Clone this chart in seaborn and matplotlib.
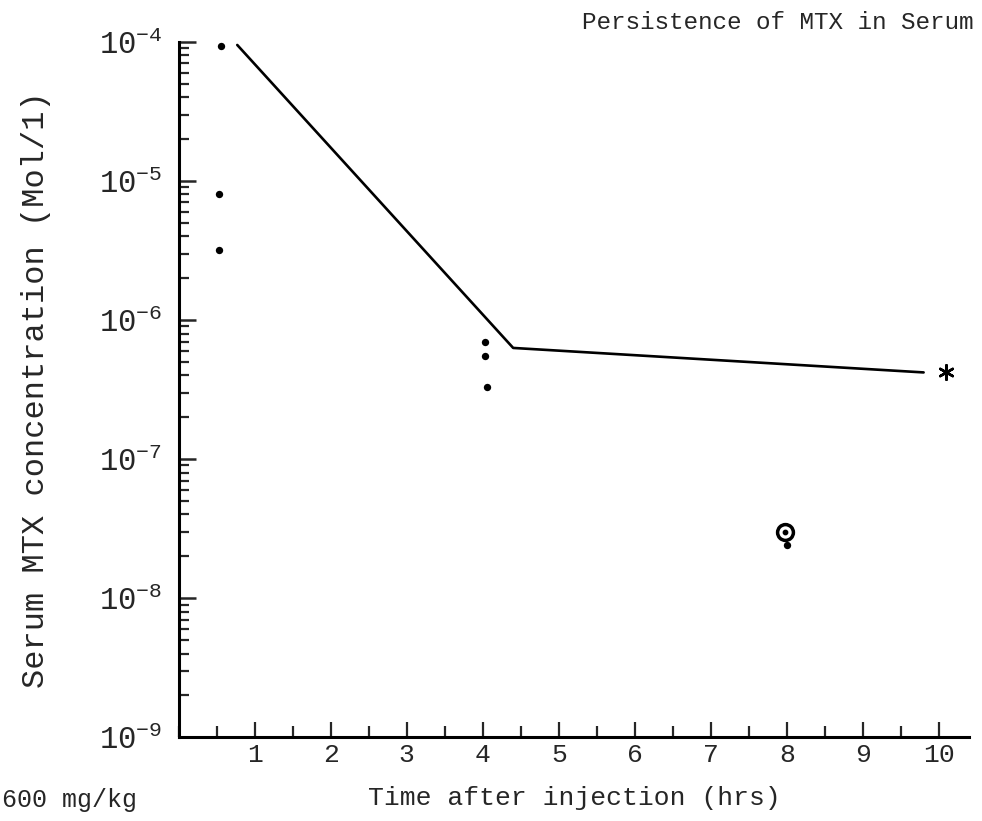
import matplotlib
matplotlib.use('Agg')
import matplotlib.pyplot as plt
import matplotlib.ticker as mticker
import seaborn as sns
import numpy as np
import pandas as pd

# fitted decay curve
line_time = [0.77, 4.4, 9.8]
line_conc = [9.5e-5, 6.3e-7, 4.2e-7]

# individual serum measurements
dot_time = [0.55, 0.53, 0.53, 4.03, 4.03, 4.05, 8.0]
dot_conc = [9.3e-5, 8.0e-6, 3.2e-6, 7.0e-7, 5.5e-7, 3.3e-7, 2.4e-8]

ring_time = [7.98]
ring_conc = [3.0e-8]

star_time = [10.1]
star_conc = [4.2e-7]

x_ticks = [1, 2, 3, 4, 5, 6, 7, 8, 9, 10]
y_ticks = [1e-9, 1e-8, 1e-7, 1e-6, 1e-5, 1e-4]
y_labels = [r'$10^{-9}$', r'$10^{-8}$', r'$10^{-7}$', r'$10^{-6}$', r'$10^{-5}$', r'$10^{-4}$']

sns.set_theme(style='ticks')
plt.rcParams['font.family'] = ['Liberation Mono', 'DejaVu Sans Mono']
plt.rcParams['mathtext.fontset'] = 'custom'
plt.rcParams['mathtext.rm'] = 'Liberation Mono'
plt.rcParams['mathtext.it'] = 'Liberation Mono'
plt.rcParams['mathtext.default'] = 'regular'

fig = plt.figure(figsize=(9.82, 8.21), dpi=100)
ax = fig.add_axes([0.182, 0.102, 0.805, 0.847])

line_df = pd.DataFrame({'t': line_time, 'c': line_conc})
dot_df = pd.DataFrame({'t': dot_time, 'c': dot_conc})

sns.lineplot(data=line_df, x='t', y='c', color='black', linewidth=1.9, ax=ax)
sns.scatterplot(data=dot_df, x='t', y='c', color='black', s=28, edgecolor='black', linewidth=0, ax=ax)
ax.scatter(ring_time, ring_conc, s=130, facecolor='white', edgecolor='black', linewidth=2.5, zorder=4)
ax.scatter(ring_time, ring_conc, s=10, color='black', zorder=5)
ax.scatter(star_time, star_conc, s=110, marker=(6, 2, 0), color='black', linewidth=1.8, zorder=4)

ax.set_yscale('log')
ax.set_xlim(0, 10.4)
ax.set_ylim(1e-9, 1e-4)

ax.set_xticks(x_ticks)
ax.set_xticklabels([str(v) for v in x_ticks])
ax.xaxis.set_minor_locator(mticker.MultipleLocator(0.5))
ax.set_yticks(y_ticks)
ax.set_yticklabels(y_labels)
ax.yaxis.set_minor_locator(mticker.LogLocator(base=10, subs=np.arange(2, 10)))
ax.yaxis.set_minor_formatter(mticker.NullFormatter())

ax.tick_params(axis='x', which='major', direction='in', length=11, width=1.6, labelsize=19, pad=4)
ax.tick_params(axis='x', which='minor', direction='in', length=8, width=1.6)
ax.tick_params(axis='y', which='major', direction='in', length=12, width=1.8, labelsize=22, pad=12)
ax.tick_params(axis='y', which='minor', direction='in', length=7, width=1.6)

sns.despine(ax=ax)
ax.spines['left'].set_linewidth(2.2)
ax.spines['bottom'].set_linewidth(2.2)
ax.spines['left'].set_color('black')
ax.spines['bottom'].set_color('black')

ax.set_xlabel('Time after injection (hrs)', fontsize=19, labelpad=14)
ax.set_ylabel('Serum MTX concentration (Mol/1)', fontsize=23, labelpad=34)

fig.text(0.792, 0.973, 'Persistence of MTX in Serum', fontsize=17.5, ha='center', va='center')
fig.text(0.002, 0.026, '600 mg/kg', fontsize=18, ha='left', va='center')

fig.savefig('out.png', dpi=100, facecolor='white')
